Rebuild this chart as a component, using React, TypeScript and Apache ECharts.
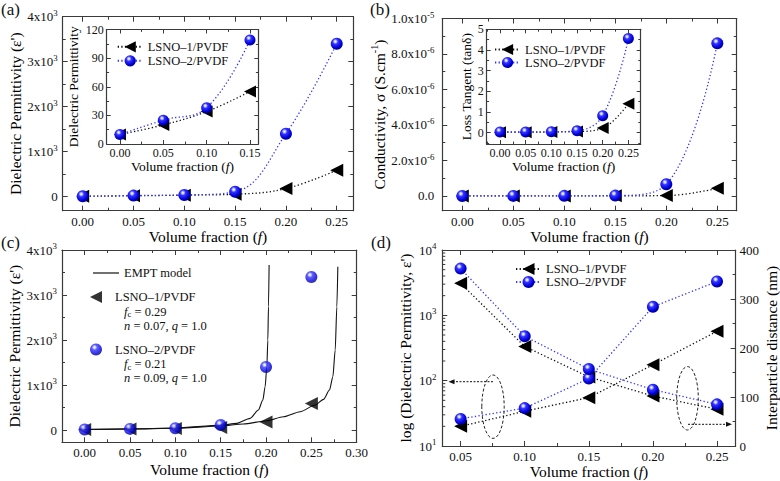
import React, { useEffect, useRef } from 'react';
import * as echarts from 'echarts';

const FONT = 'Liberation Serif';
const FRAME = '#3a3a3a';

// ---------- data ----------
const fractions = [0, 0.05, 0.1, 0.15, 0.2, 0.25];
const perm1 = [10, 20, 35, 55, 180, 590];
const perm2 = [10, 25, 38, 110, 1400, 3400];
const insetFractions = [0, 0.05, 0.1, 0.15];
const insetPerm1 = [10, 20, 34, 55];
const insetPerm2 = [10, 25, 38, 109];
const cond1 = [0.001e-6, 0.002e-6, 0.004e-6, 0.008e-6, 0.02e-6, 0.43e-6];
const cond2 = [0.001e-6, 0.003e-6, 0.008e-6, 0.02e-6, 0.66e-6, 8.6e-6];
const tan1 = [0.02, 0.02, 0.03, 0.05, 0.22, 1.4];
const tan2 = [0.03, 0.03, 0.04, 0.09, 0.82, 4.55];
// EMPT model curves
const emptF2 = [0, 0.05, 0.1, 0.15, 0.1678, 0.1825, 0.1916, 0.1965, 0.199, 0.2009, 0.202, 0.2027, 0.2034];
const emptE2 = [12, 25, 45, 104, 148, 259, 444, 667, 963, 1407, 2000, 2740, 3667];
const emptF1 = [0, 0.05, 0.1, 0.15, 0.175, 0.2009, 0.2192, 0.2376, 0.2542, 0.2634, 0.27, 0.2737, 0.2763, 0.2781, 0.2792];
const emptE1 = [10, 22, 38, 89, 133, 207, 296, 407, 555, 681, 889, 1185, 1778, 2740, 3629];
const dFractions = [0.05, 0.1, 0.15, 0.2, 0.25];
const dPerm1 = [20, 34, 55, 175, 570];
const dPerm2 = [26, 38, 108, 1350, 3300];
const dist1 = [332, 203, 141, 102, 75];
const dist2 = [362, 224, 157, 115, 85];
const logMinorTicks = [20, 30, 40, 50, 60, 70, 80, 90, 200, 300, 400, 500, 600, 700, 800, 900, 2000, 3000, 4000, 5000, 6000, 7000, 8000, 9000];

const LSNO1 = 'LSNO\u20131/PVDF';
const LSNO2 = 'LSNO\u20132/PVDF';
const TRI = 'path://M0,5L10,0L10,10Z';

const sphere = () =>
  new echarts.graphic.RadialGradient(0.38, 0.32, 0.7, [
    { offset: 0, color: '#ffffff' },
    { offset: 0.14, color: '#c8c8ff' },
    { offset: 0.32, color: '#3434ff' },
    { offset: 0.75, color: '#0000dd' },
    { offset: 1, color: '#000080' },
  ]);

const pairs = (xs: number[], ys: number[]) => xs.map((x, i) => [x, ys[i]]);

const supRich = (fs: number) => ({
  s: { fontFamily: FONT, fontSize: fs * 0.68, color: '#111', padding: [0, 0, fs * 0.6, 0] },
});
const nameRich = (fs: number) => ({
  i: { fontFamily: FONT, fontSize: fs, fontStyle: 'italic', color: '#000' },
  s: { fontFamily: FONT, fontSize: fs * 0.65, color: '#000', padding: [0, 0, fs * 0.6, 0] },
});

function xPair(gridIndex: number, min: number, max: number, o: any) {
  const fs = o.fontSize ?? 13;
  const ns = o.nameSize ?? 15.5;
  const base: any = {
    type: 'value', gridIndex, min, max, splitNumber: o.splitNumber ?? 5,
    axisLine: { show: true, onZero: false, lineStyle: { color: FRAME, width: 1.2 } },
    axisTick: { show: true, inside: true, length: o.tickLen ?? 5, lineStyle: { color: FRAME, width: 1 } },
    minorTick: { show: true, splitNumber: 2, length: (o.tickLen ?? 5) * 0.6, lineStyle: { color: FRAME, width: 1 } },
    splitLine: { show: false },
  };
  return [
    {
      ...base, position: 'bottom',
      name: 'Volume fraction ({i|f})', nameLocation: 'middle', nameGap: o.nameGap ?? 18,
      nameTextStyle: { fontFamily: FONT, fontSize: ns, color: '#000', rich: nameRich(ns) },
      axisLabel: {
        show: true, fontFamily: FONT, fontSize: fs, color: '#111', margin: o.margin ?? 4,
        showMinLabel: o.showMin ? undefined : false, showMaxLabel: o.showMax ? undefined : false,
        formatter: (v: number) => v.toFixed(2),
      },
    },
    { ...base, position: 'top', axisLabel: { show: false } },
  ];
}

function yPair(gridIndex: number, min: number, max: number, o: any) {
  const fs = o.fontSize ?? 13;
  const ns = o.nameSize ?? 15.5;
  const base: any = {
    type: 'value', gridIndex, min, max, splitNumber: o.splitNumber ?? 5,
    axisLine: { show: true, onZero: false, lineStyle: { color: FRAME, width: 1.2 } },
    axisTick: { show: true, inside: true, length: o.tickLen ?? 5, lineStyle: { color: FRAME, width: 1 } },
    minorTick: { show: true, splitNumber: 2, length: (o.tickLen ?? 5) * 0.6, lineStyle: { color: FRAME, width: 1 } },
    splitLine: { show: false },
  };
  return [
    {
      ...base, position: 'left',
      name: o.name, nameLocation: 'middle', nameGap: o.nameGap,
      nameTextStyle: { fontFamily: FONT, fontSize: ns, color: '#000', rich: nameRich(ns) },
      axisLabel: {
        show: true, fontFamily: FONT, fontSize: fs, color: '#111', margin: o.margin ?? 5,
        showMinLabel: o.showMin ? undefined : false,
        formatter: o.formatter, rich: supRich(fs),
      },
    },
    { ...base, position: 'right', axisLabel: { show: false } },
  ];
}

const thousands = (v: number) => (Math.abs(v) < 1e-9 ? '0' : `${Math.round(v / 1000)}x10{s|3}`);
const sci = (v: number) => {
  if (Math.abs(v) < 1e-15) return '0.0';
  const e = Math.floor(Math.log10(v) + 1e-9);
  return `${(v / Math.pow(10, e)).toFixed(1)}x10{s|${e}}`;
};

function lineSeries(name: string, xi: number, yi: number, xs: number[], ys: number[], kind: 'tri' | 'sph', size: number, smooth: number | boolean) {
  const black = kind === 'tri';
  return {
    type: 'line', name, xAxisIndex: xi, yAxisIndex: yi,
    data: pairs(xs, ys),
    symbol: black ? TRI : 'circle', symbolSize: size, symbolKeepAspect: true,
    smooth,
    lineStyle: { color: black ? '#111' : '#3333ff', width: 1.3, type: [1.3, 2.3] },
    itemStyle: { color: black ? '#000' : sphere() },
    z: black ? 3 : 4,
  };
}

function buildOption(): any {
  const xAxis = [
    ...xPair(0, -0.0197, 0.2663, {}),
    ...xPair(1, -0.0153, 0.1596, { splitNumber: 3, fontSize: 12, nameSize: 13.5, nameGap: 14, margin: 3, tickLen: 4 }),
    ...xPair(2, -0.0196, 0.269, {}),
    ...xPair(3, -0.0259, 0.274, { fontSize: 12, nameSize: 13.5, nameGap: 14, margin: 3, tickLen: 4 }),
    ...xPair(4, -0.025, 0.3, { showMax: true, nameGap: 19 }),
    ...xPair(5, 0.0357, 0.2645, { nameGap: 16 }),
  ];
  const yAxis: any[] = [
    ...yPair(0, -311, 4000, { name: "Dielectric Permittivity (\u03b5')", nameGap: 36, formatter: thousands, margin: 5 }),
    ...yPair(1, 0, 120, { splitNumber: 4, showMin: true, name: 'Dielectric Permittivity', nameGap: 26, fontSize: 12, nameSize: 13.5, margin: 3, tickLen: 4, formatter: (v: number) => `${v}` }),
    ...yPair(2, -0.83e-6, 1e-5, { name: 'Conductivity, \u03c3 (S.cm{s|-1})', nameGap: 52, formatter: sci, margin: 8 }),
    ...yPair(3, -0.55, 5, { name: 'Loss Tangent (tan\u03b4)', nameGap: 10, fontSize: 12, nameSize: 13.5, margin: 3, tickLen: 4, formatter: (v: number) => `${Math.round(v)}` }),
    ...yPair(4, -273, 4000, { name: "Dielectric Permittivity (\u03b5')", nameGap: 36, formatter: thousands, margin: 5 }),
    {
      type: 'log', gridIndex: 5, position: 'left', min: 10, max: 10000, logBase: 10,
      axisLine: { show: true, onZero: false, lineStyle: { color: FRAME, width: 1.2 } },
      axisTick: { show: true, inside: true, length: 5, lineStyle: { color: FRAME, width: 1 } },
      minorTick: { show: false },
      splitLine: { show: false },
      name: "log (Dielectric Permittivity, \u03b5')", nameLocation: 'middle', nameGap: 29,
      nameTextStyle: { fontFamily: FONT, fontSize: 15.5, color: '#000', rich: nameRich(15.5) },
      axisLabel: {
        fontFamily: FONT, fontSize: 13, color: '#111', margin: 6, rich: supRich(13),
        formatter: (v: number) => `10{s|${Math.round(Math.log10(v))}}`,
      },
    },
    {
      type: 'value', gridIndex: 5, position: 'right', min: 0, max: 400, splitNumber: 4,
      axisLine: { show: true, onZero: false, lineStyle: { color: FRAME, width: 1.2 } },
      axisTick: { show: true, inside: true, length: 5, lineStyle: { color: FRAME, width: 1 } },
      minorTick: { show: true, splitNumber: 2, length: 3, lineStyle: { color: FRAME, width: 1 } },
      splitLine: { show: false },
      name: 'Interparticle distance (nm)', nameLocation: 'middle', nameGap: 26,
      nameTextStyle: { fontFamily: FONT, fontSize: 15.5, color: '#000' },
      axisLabel: { fontFamily: FONT, fontSize: 13, color: '#111', margin: 4 },
    },
  ];

  const grid = [
    { left: 62.7, top: 16.7, width: 290.6, height: 194 },
    { left: 106.7, top: 29.5, width: 151.6, height: 114.5, show: true, backgroundColor: '#fff', borderWidth: 0 },
    { left: 442.3, top: 18.5, width: 294.4, height: 192.2 },
    { left: 486.7, top: 29.3, width: 154, height: 114.7, show: true, backgroundColor: '#fff', borderWidth: 0 },
    { left: 62, top: 250, width: 294.7, height: 192.3 },
    { left: 442.3, top: 250, width: 293.4, height: 196 },
  ];

  const series: any[] = [
    lineSeries(LSNO1 + '|a', 0, 0, fractions, perm1, 'tri', 13, 0.4),
    lineSeries(LSNO2 + '|a', 0, 0, fractions, perm2, 'sph', 12, 0.4),
    lineSeries(LSNO1 + '|ai', 2, 2, insetFractions, insetPerm1, 'tri', 12, 0.4),
    lineSeries(LSNO2 + '|ai', 2, 2, insetFractions, insetPerm2, 'sph', 11, 0.4),
    lineSeries(LSNO1 + '|b', 4, 4, fractions, cond1, 'tri', 13, 0.4),
    lineSeries(LSNO2 + '|b', 4, 4, fractions, cond2, 'sph', 12, 0.4),
    lineSeries(LSNO1 + '|bi', 6, 6, fractions, tan1, 'tri', 12, 0.4),
    lineSeries(LSNO2 + '|bi', 6, 6, fractions, tan2, 'sph', 11, 0.4),
    {
      type: 'line', name: 'EMPT model|c', xAxisIndex: 8, yAxisIndex: 8, data: pairs(emptF2, emptE2),
      symbol: 'none', smooth: 0.25, smoothMonotone: 'x', lineStyle: { color: '#111', width: 1.1 }, itemStyle: { color: '#111' }, z: 2,
    },
    {
      type: 'line', name: 'EMPT model|c2', xAxisIndex: 8, yAxisIndex: 8, data: pairs(emptF1, emptE1),
      symbol: 'none', smooth: 0.25, smoothMonotone: 'x', lineStyle: { color: '#111', width: 1.1 }, itemStyle: { color: '#111' }, z: 2,
    },
    {
      type: 'scatter', name: LSNO1 + '|c', xAxisIndex: 8, yAxisIndex: 8, data: pairs(fractions, perm1),
      symbol: TRI, symbolSize: 13, symbolKeepAspect: true, itemStyle: { color: '#000' }, z: 3,
    },
    {
      type: 'scatter', name: LSNO2 + '|c', xAxisIndex: 8, yAxisIndex: 8, data: pairs(fractions, perm2),
      symbol: 'circle', symbolSize: 12, itemStyle: { color: sphere() }, z: 4,
    },
    lineSeries(LSNO1 + '|d', 10, 10, dFractions, dPerm1, 'tri', 13, false),
    lineSeries(LSNO2 + '|d', 10, 10, dFractions, dPerm2, 'sph', 12, false),
    lineSeries(LSNO1 + '|d2', 10, 11, dFractions, dist1, 'tri', 13, false),
    lineSeries(LSNO2 + '|d2', 10, 11, dFractions, dist2, 'sph', 12, false),
    {
      type: 'custom', name: 'minor', xAxisIndex: 10, yAxisIndex: 10,
      data: logMinorTicks.map((v) => [0.0357, v]),
      renderItem: (_p: any, api: any) => {
        const pt = api.coord([api.value(0), api.value(1)]);
        return { type: 'line', shape: { x1: pt[0], y1: pt[1], x2: pt[0] + 3, y2: pt[1] }, style: { stroke: FRAME, lineWidth: 1 } };
      },
      silent: true, z: 1,
    },
  ];

  const legendBase = {
    orient: 'vertical', selectedMode: false, itemGap: 1, itemWidth: 25, itemHeight: 14, padding: 0,
    textStyle: { fontFamily: FONT, fontSize: 12.5, color: '#111' },
    formatter: (n: string) => n.split('|')[0],
  };
  const legend = [
    { ...legendBase, left: 116.7, top: 40.3, data: [LSNO1 + '|ai', LSNO2 + '|ai'] },
    { ...legendBase, left: 494, top: 43, itemGap: 0, data: [LSNO1 + '|bi', LSNO2 + '|bi'] },
    { ...legendBase, left: 515, top: 262.5, itemHeight: 15, itemGap: 0, data: [LSNO1 + '|d', LSNO2 + '|d'] },
    { ...legendBase, left: 93, top: 266.5, itemWidth: 26, itemHeight: 1.2, data: [{ name: 'EMPT model|c', icon: 'rect' }] },
    { ...legendBase, left: 90, top: 290.5, itemWidth: 28, itemHeight: 12, data: [{ name: LSNO1 + '|c', icon: TRI }] },
    { ...legendBase, left: 90, top: 343, itemWidth: 28, itemHeight: 12, data: [{ name: LSNO2 + '|c', icon: 'circle' }] },
  ];

  const txt = (text: string, x: number, y: number, fs = 12.5, extra: any = {}) => ({
    type: 'text', x, y,
    style: {
      text, fill: '#111', fontFamily: FONT, fontSize: fs, verticalAlign: 'middle', align: 'left',
      rich: {
        i: { fontFamily: FONT, fontSize: fs, fontStyle: 'italic', fill: '#111' },
        sub: { fontFamily: FONT, fontSize: fs * 0.7, fill: '#111', padding: [5, 0, 0, 0] },
      },
      ...extra,
    },
  });

  const dash = { stroke: '#222', lineWidth: 1, lineDash: [3, 2], fill: null };
  const graphic = [
    txt('(a)', 1, 9, 17),
    txt('(b)', 370, 9, 17),
    txt('(c)', 1, 242, 17),
    txt('(d)', 371, 242, 17),
    txt('{i|f}{sub|c} = 0.29', 124, 311.7),
    txt('{i|n} = 0.07, {i|q} = 1.0', 124, 326),
    txt('{i|f}{sub|c} = 0.21', 124, 364),
    txt('{i|n} = 0.09, {i|q} = 1.0', 124, 378),
    { type: 'ellipse', shape: { cx: 493, cy: 406.7, rx: 11.2, ry: 31.7 }, style: dash },
    { type: 'line', shape: { x1: 493, y1: 381.7, x2: 453, y2: 381.7 }, style: { stroke: '#111', lineWidth: 1, lineDash: [2, 1.5] } },
    { type: 'polygon', shape: { points: [[448.5, 381.7], [454.5, 379.2], [454.5, 384.2]] }, style: { fill: '#111' } },
    { type: 'ellipse', shape: { cx: 687.5, cy: 398.3, rx: 10.8, ry: 31.7 }, style: dash },
    { type: 'line', shape: { x1: 688, y1: 424.3, x2: 727, y2: 424.3 }, style: { stroke: '#111', lineWidth: 1, lineDash: [2, 1.5] } },
    { type: 'polygon', shape: { points: [[732, 424.3], [726, 421.8], [726, 426.8]] }, style: { fill: '#111' } },
  ];

  return {
    animation: false,
    backgroundColor: '#fff',
    textStyle: { fontFamily: FONT },
    grid, xAxis, yAxis, series, legend, graphic,
  };
}

export default function App() {
  const ref = useRef<HTMLDivElement>(null);
  useEffect(() => {
    const chart = echarts.init(ref.current!, null, { renderer: 'svg' });
    chart.setOption(buildOption());
    return () => chart.dispose();
  }, []);
  return (
    <div
      ref={ref}
      style={{ position: 'absolute', left: 0, top: 0, width: 780, height: 481, background: '#fff' }}
    />
  );
}
